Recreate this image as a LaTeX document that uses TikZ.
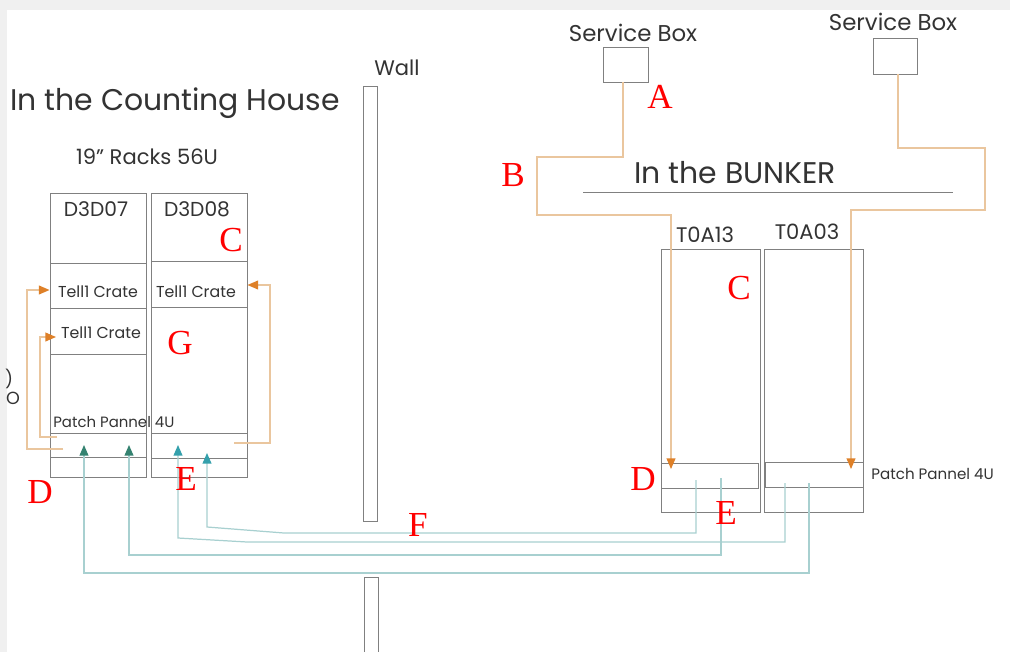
\documentclass[tikz,border=0pt]{standalone}
\usepackage{fontspec}
\setmainfont{Poppins}
\newfontfamily\markfont{Liberation Serif}
\usetikzlibrary{arrows.meta, fit}
\definecolor{rackgray}{RGB}{128,128,128}
\definecolor{cabletan}{RGB}{234,198,158}
\definecolor{tipor}{RGB}{222,128,40}
\definecolor{cableteal}{RGB}{168,208,208}
\definecolor{tipgreen}{RGB}{52,130,112}
\definecolor{tipteal}{RGB}{52,160,172}
\definecolor{edgegray}{RGB}{240,240,240}

\begin{document}
\begin{tikzpicture}[x=0.02cm, y=-0.02cm,
    rack/.style={draw=rackgray, line width=0.55pt, inner sep=0pt},
    lbl/.style={inner sep=0pt, text=black!80},
    redmark/.style={inner sep=0pt, text=red, font=\markfont\fontsize{20}{20}\selectfont},
    orcable/.style={draw=cabletan, line width=0.7pt, -{Triangle[width=5pt,length=6pt,color=tipor]}},
    tlcable/.style={draw=cableteal, line width=0.7pt, -{Triangle[width=5pt,length=6pt,color=#1]}}]
  % page
  \fill[edgegray] (0,0) rectangle (1010,652);
  \fill[white] (7,10) rectangle (1010,652);
  \useasboundingbox (0,0) rectangle (1010,652);

  % titles
  \node[lbl, font=\fontsize{17}{17}\selectfont] (house) at (175,103) {In the Counting House};
  \node[lbl, font=\fontsize{12}{12}\selectfont] (racks) at (147,157) {19'' Racks 56U};
  \node[lbl, font=\fontsize{12}{12}\selectfont] (walltxt) at (397,68) {Wall};
  \node[lbl, font=\fontsize{17}{17}\selectfont] (bunker) at (735,173) {In the BUNKER};
  \draw[rackgray, line width=0.55pt] (583,192) -- (953,192);
  \node[lbl, font=\fontsize{10}{10}\selectfont] at (9,379) {)};
  \node[lbl, font=\fontsize{10}{10}\selectfont] at (13,398) {O};

  % wall
  \node[rack, fit={(363,86) (377,521)}] (wall) {};
  \draw[rack] (364,652) -- (364,577) -- (378,577) -- (378,652);

  % service boxes
  \node[lbl, font=\fontsize{13}{13}\selectfont] (sbtxt1) at (633,33) {Service Box};
  \node[rack, fit={(603,47) (648,82)}] (sb1) {};
  \node[lbl, font=\fontsize{13}{13}\selectfont] (sbtxt2) at (893,22) {Service Box};
  \node[rack, fit={(873,38) (917,74)}] (sb2) {};

  % counting house racks
  \node[rack, fit={(50,193) (146,477)}] (d3d07) {};
  \node[rack, fit={(151,193) (247,477)}] (d3d08) {};
  \node[rack, fit={(50,263) (146,308)}] (crate07a) {};
  \node[rack, fit={(50,308) (146,354)}] (crate07b) {};
  \node[rack, fit={(151,261) (247,307)}] (crate08) {};
  \node[rack, fit={(50,433) (146,457)}] (pp07) {};
  \node[rack, fit={(151,433) (247,458)}] (pp08) {};
  \node[lbl, font=\fontsize{11.5}{11.5}\selectfont] at (96,209) {D3D07};
  \node[lbl, font=\fontsize{11.5}{11.5}\selectfont] at (197,209) {D3D08};
  \node[lbl, font=\fontsize{9}{9}\selectfont] at (98,292) {Tell1 Crate};
  \node[lbl, font=\fontsize{9}{9}\selectfont] at (101,333) {Tell1 Crate};
  \node[lbl, font=\fontsize{9}{9}\selectfont] at (196,292) {Tell1 Crate};
  \node[lbl, anchor=west, font=\fontsize{8.5}{8.5}\selectfont] at (53,422) {Patch Pannel 4U};

  % bunker racks
  \node[rack, fit={(661,249) (760,512)}] (t0a13) {};
  \node[rack, fit={(764,249) (863,512)}] (t0a03) {};
  \node[rack, fit={(661,463) (758,488)}] (pp13) {};
  \node[rack, fit={(765,462) (863,487)}] (pp03) {};
  \node[lbl, font=\fontsize{12}{12}\selectfont] at (705,235) {T0A13};
  \node[lbl, font=\fontsize{12}{12}\selectfont] at (807,232) {T0A03};
  \node[lbl, anchor=west, font=\fontsize{8.6}{8.6}\selectfont] at (871,474) {Patch Pannel 4U};

  % cable ends
  \coordinate (in13) at (671,469);
  \coordinate (in03) at (851,469);
  \coordinate (o07a) at (63,449);
  \coordinate (o07b) at (57,437);
  \coordinate (o08) at (234,443);
  \coordinate (e13a) at (696,480);
  \coordinate (e13b) at (721,478);
  \coordinate (e03a) at (785,483);
  \coordinate (e03b) at (809,483);

  % service cables
  \draw[orcable] (sb1.south -| 623,0) -- (623,157) -- (537,157) -- (537,215) -- (671,215) -- (in13);
  \draw[orcable] (sb2.south -| 898,0) -- (898,148) -- (985,148) -- (985,210) -- (851,210) -- (in03);
  \draw[orcable] (o07a) -- (27,449) -- (27,290) -- (crate07a.west |- 0,290);
  \draw[orcable] (o07b) -- (40,437) -- (40,337) -- (56,337);
  \draw[orcable] (o08) -- (270,443) -- (270,285) -- (crate08.east |- 0,285);

  % fibre cables
  \draw[tlcable=tipteal] (e13a) -- (696,533) -- (284,533) -- (207,527) -- (207,453);
  \draw[tlcable=tipteal] (e03a) -- (785,542) -- (247,542) -- (178,538) -- (178,445);
  \draw[tlcable=tipgreen] (e13b) -- (721,555) -- (129,555) -- (129,445);
  \draw[tlcable=tipgreen] (e03b) -- (809,573) -- (84,573) -- (84,445);

  % letters
  \node[redmark] at (660,97) {A};
  \node[redmark] at (513,175) {B};
  \node[redmark] at (231,240) {C};
  \node[redmark] at (739,288) {C};
  \node[redmark] at (180,343) {G};
  \node[redmark] at (40,492) {D};
  \node[redmark] at (186,479) {E};
  \node[redmark] at (643,479) {D};
  \node[redmark] at (726,513) {E};
  \node[redmark] at (418,525) {F};
\end{tikzpicture}
\end{document}
